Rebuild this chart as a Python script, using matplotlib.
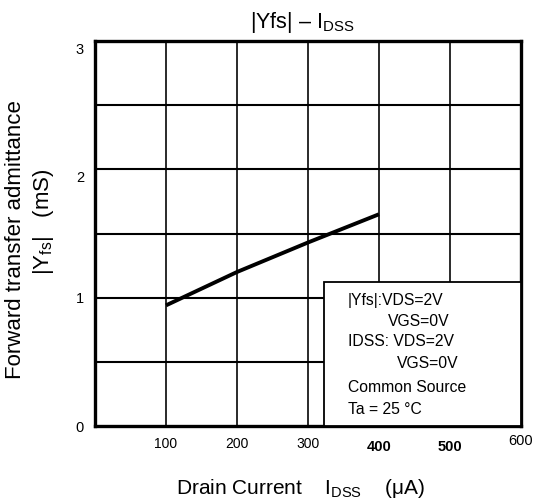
import matplotlib
matplotlib.use("Agg")
import matplotlib.pyplot as plt
import matplotlib.transforms as mtransforms
from matplotlib.patches import Rectangle

# Data
idss = [100, 200, 300, 400]          # Drain current IDSS (uA)
yfs = [0.94, 1.20, 1.43, 1.65]       # |Yfs| (mS)
x_ticks = [100, 200, 300, 400, 500, 600]
x_tick_labels = ["100", "200", "300", "400", "500", "600"]
y_ticks = [0, 1, 2, 3]
y_tick_labels = ["0", "1", "2", "3"]

plt.rcParams['font.family'] = ['Liberation Sans', 'DejaVu Sans']
plt.rcParams['mathtext.fontset'] = 'custom'
plt.rcParams['mathtext.rm'] = 'Liberation Sans'
plt.rcParams['mathtext.it'] = 'Liberation Sans'
plt.rcParams['mathtext.bf'] = 'Liberation Sans:bold'

W, H = 537, 503
fig = plt.figure(figsize=(W / 100, H / 100), dpi=100)
ax = fig.add_axes([95 / W, 1 - 426 / H, (521 - 95) / W, (426 - 41) / H])
ax.set_xlim(0, 600)
ax.set_ylim(0, 3)

# grid
for gx in [100, 200, 300, 400, 500]:
    ax.axvline(gx, color='#2a2a2a', lw=1.4, zorder=1)
for gy in [0.5, 1.0, 1.5, 2.0, 2.5]:
    ax.axhline(gy, color='black', lw=1.5, zorder=1)

for s in ax.spines.values():
    s.set_linewidth(2.4)

ax.plot(idss, yfs, color='black', lw=2.8, zorder=3, solid_capstyle='butt')

# condition box
ax.add_patch(Rectangle((322, 0), 278, 1.12, facecolor='white', edgecolor='black',
                       lw=1.3, zorder=4))

def ftext(px, py, s, **kw):
    kw.setdefault('va', 'center')
    return fig.text(px / W, 1 - py / H, s, **kw)

fs = 11.3
ftext(348, 300, "|Yfs|:VDS=2V", fontsize=fs, zorder=5)
ftext(388, 321, "VGS=0V", fontsize=fs, zorder=5)
ftext(348, 342, "IDSS: VDS=2V", fontsize=fs, zorder=5)
ftext(397, 363, "VGS=0V", fontsize=fs, zorder=5)
ftext(348, 387, "Common Source", fontsize=fs, zorder=5)
ftext(348, 410, "Ta = 25 °C", fontsize=fs, zorder=5)

# ticks
ax.set_xticks(x_ticks)
ax.set_xticklabels(x_tick_labels, fontsize=10)
ax.set_yticks(y_ticks)
ax.set_yticklabels(y_tick_labels, fontsize=10.5)
ax.tick_params(length=0)
ax.tick_params(axis='x', pad=8)
ax.tick_params(axis='y', pad=8)

def shift(lbl, dx, dy):
    lbl.set_transform(lbl.get_transform() +
                      mtransforms.ScaledTranslation(dx / 100, dy / 100, fig.dpi_scale_trans))

for lbl in ax.get_xticklabels():
    t = lbl.get_text()
    if t in ("400", "500"):
        lbl.set_fontweight('bold')
        lbl.set_fontsize(10.5)
        shift(lbl, 0, -3)
    if t == "600":
        lbl.set_fontsize(10.5)
        shift(lbl, 0, 3)
for lbl in ax.get_yticklabels():
    if lbl.get_text() in ("2", "3"):
        shift(lbl, 0, -7)

# titles
ftext(302, 28, r"|Yfs| – I$_{\mathrm{DSS}}$", fontsize=15.5, ha='center', va='baseline')
ftext(300, 494, r"Drain Current    I$_{\mathrm{DSS}}$    (μA)", fontsize=15, ha='center',
      va='baseline')
ftext(16, 240, "Forward transfer admittance", rotation=90, fontsize=16, ha='center')
ftext(43, 222, r"|Y$_{\mathrm{fs}}$|   (mS)", rotation=90, fontsize=16, ha='center')

fig.savefig("out.png", dpi=100)
